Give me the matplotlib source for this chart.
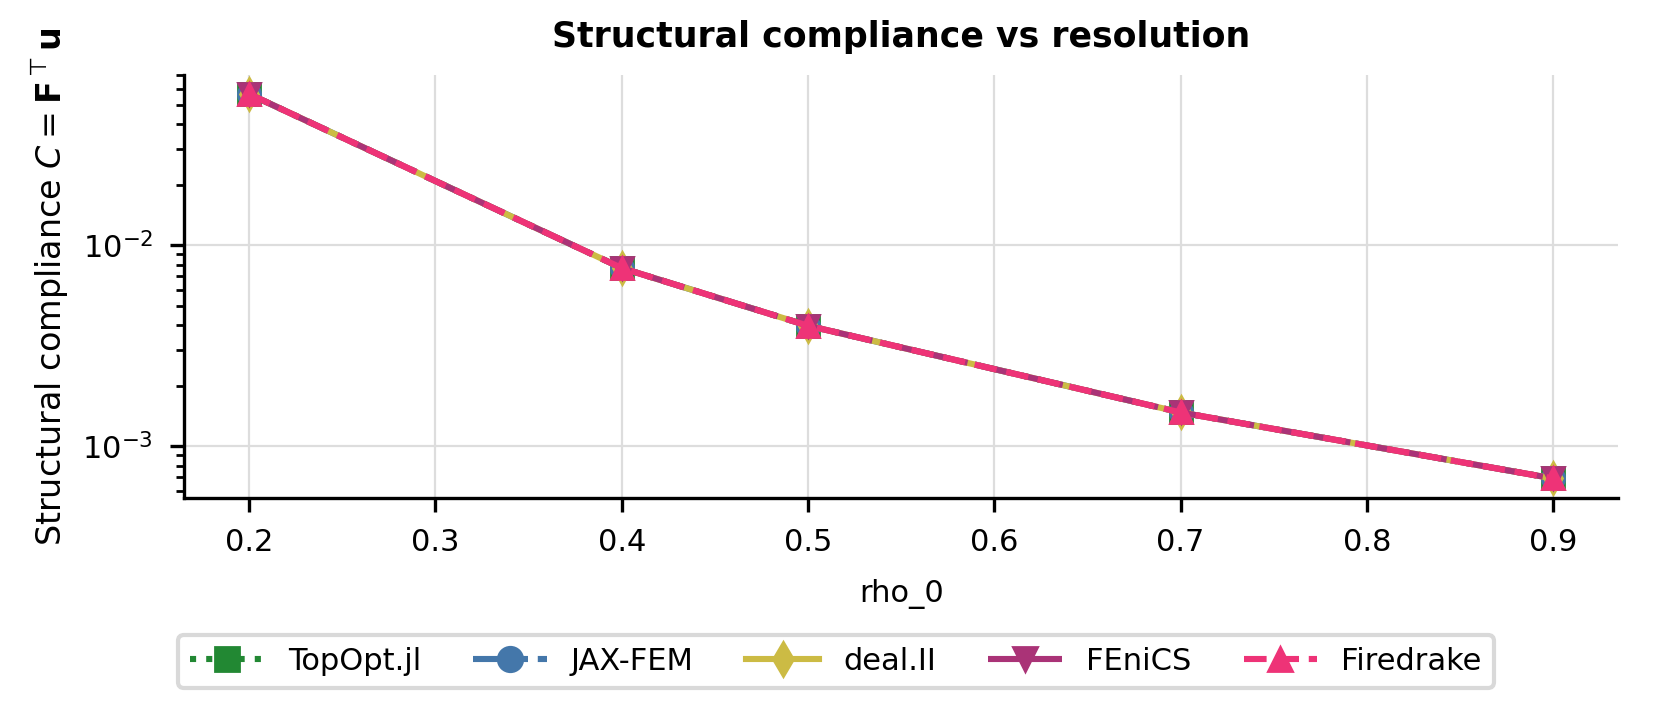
import numpy as np
import matplotlib.pyplot as plt

rho_0 = [0.2, 0.4, 0.5, 0.7, 0.9]

topopt = [0.0565, 0.00769, 0.00397, 0.00147, 0.00069]
jaxfem = [0.0565, 0.00769, 0.00397, 0.00147, 0.00069]
dealii = [0.0565, 0.00769, 0.00397, 0.00147, 0.00069]
fenics = [0.0565, 0.00769, 0.00397, 0.00147, 0.00069]
firedrake = [0.0565, 0.00769, 0.00397, 0.00147, 0.00069]

names = ["TopOpt.jl", "JAX-FEM", "deal.II", "FEniCS", "Firedrake"]
colors = ["#228833", "#4477AA", "#CCBB44", "#AA3377", "#EE3377"]
markers = ["s", "o", "d", "v", "^"]
styles = [":", "-.", "-", (0, (14, 2)), "--"]

fig, ax = plt.subplots(figsize=(8.36, 3.56), dpi=200)

for vals, name, c, m, ls in zip([topopt, jaxfem, dealii, fenics, firedrake],
                                names, colors, markers, styles):
    ax.plot(rho_0, vals, color=c, marker=m, linestyle=ls, linewidth=2.2,
            markersize=8, label=name)

ax.set_yscale("log")
ax.set_xlabel("rho_0", fontsize=11, labelpad=8)
ax.set_ylabel(r"Structural compliance $C = \mathbf{F}^\top\mathbf{u}$", fontsize=12)
ax.set_title("Structural compliance vs resolution", fontsize=12.5, fontweight="bold", pad=10)
ax.grid(True, color="#dddddd", linewidth=0.8)
ax.set_axisbelow(True)
ax.spines["top"].set_visible(False)
ax.spines["right"].set_visible(False)
for s in ["left", "bottom"]:
    ax.spines[s].set_linewidth(1.2)
ax.tick_params(labelsize=11, width=1.2, length=5, pad=6)
ax.tick_params(which="minor", width=1.0, length=3)

fig.subplots_adjust(left=0.11, right=0.968, top=0.895, bottom=0.301)
leg = fig.legend(loc="lower center", bbox_to_anchor=(0.5, 0.012), ncol=5,
                 fontsize=11, frameon=True, edgecolor="#d0d0d0",
                 handlelength=2.4, columnspacing=1.7, markerscale=1.1)
leg.get_frame().set_linewidth(1.5)

plt.savefig("out.png", dpi=200)
